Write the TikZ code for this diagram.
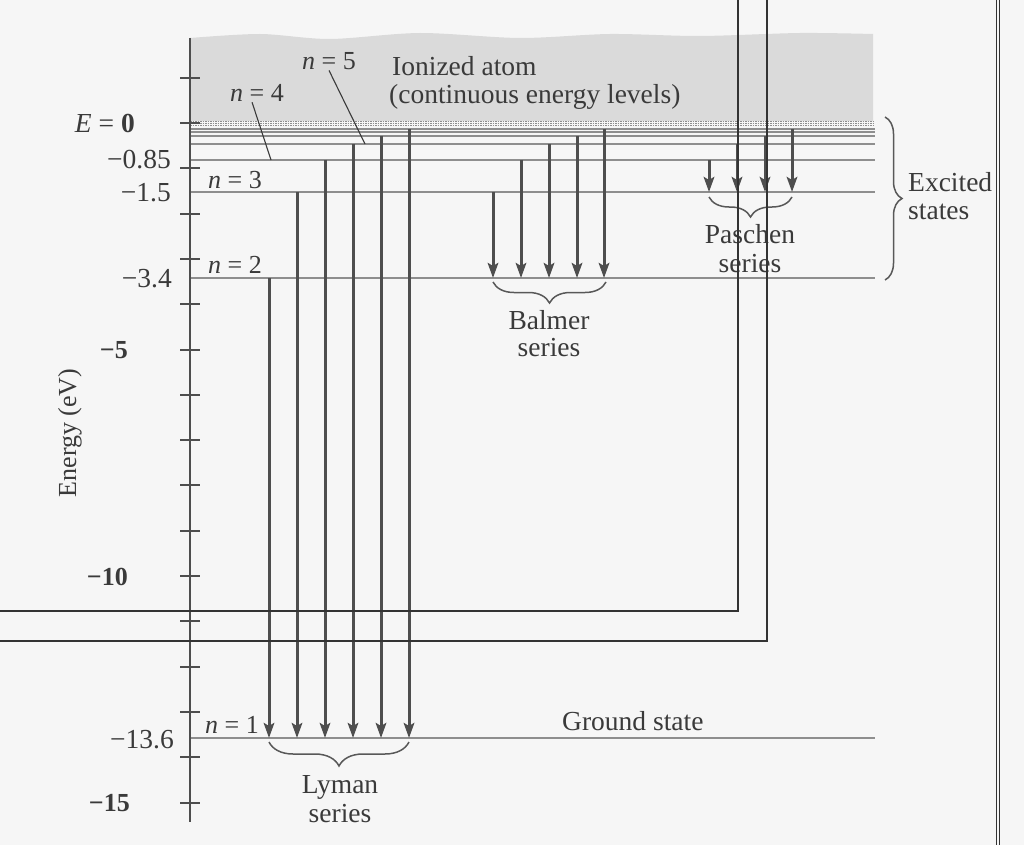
\documentclass[tikz,border=0pt]{standalone}
\usepackage{fontspec}
\setmainfont{Liberation Serif}
\usetikzlibrary{arrows.meta, decorations.pathreplacing, positioning}
\definecolor{ink}{HTML}{3A3A3A}
\definecolor{lvl}{HTML}{8E8E8E}
\definecolor{contgray}{HTML}{DADADA}
\definecolor{paper}{HTML}{F6F6F6}

\begin{document}
\begin{tikzpicture}[x=1pt,y=-1pt,>={Stealth[length=15pt,width=10.5pt,inset=3pt]},
    every node/.style={font=\fontsize{27.5}{29}\selectfont, text=ink, inner sep=0pt},
    small/.style={font=\fontsize{26}{29}\selectfont},
    lvline/.style={draw=lvl, line width=1.5pt},
    band/.style={draw=lvl, line width=1pt, dash pattern=on 1.5pt off 1pt},
    axisline/.style={draw=ink!90, line width=2.5pt},
    axtick/.style={draw=ink!90, line width=2pt},
    drop/.style={->, draw=ink!90, line width=3pt},
    leader/.style={draw=ink, line width=1.1pt},
    sbrace/.style={draw=ink!85, line width=1.5pt, decorate, decoration={brace, mirror, amplitude=#1}},
    rbrace/.style={draw=ink!85, line width=1.5pt, decorate, decoration={brace, amplitude=#1}},
    cutline/.style={draw=black!80, line width=1.2pt}]
    \useasboundingbox[fill=paper] (0,0) rectangle (1024,845);

    % continuum above E = 0
    \fill[contgray] (190,121) -- plot[smooth] coordinates {(190,38) (260,34) (330,39) (420,33)
        (520,38) (610,34) (700,36) (800,33) (873,34)} -- (873,121) -- cycle;

    % energy levels
    \foreach \y in {121.5,123.5,125.5}
        \draw[band] (190,\y) -- (875,\y);
    \foreach \y in {129,132,136,144,160,192,738}
        \draw[lvline] (190,\y) -- (875,\y);
    \draw[lvline, line width=2pt] (190,278) -- (875,278);

    % energy axis
    \draw[axisline] (190,38) -- (190,822);
    \foreach \e in {1,0,...,-15}
        \draw[axtick] (180,{123-45.3*\e}) -- (200,{123-45.3*\e});

    \node[anchor=base east] (ezero) at (135,133) {\textit{E} = \textbf{0}};
    \node[anchor=base east] (vfour) at (171,168) {−0.85};
    \node[anchor=base east] (vthree) at (171,201) {−1.5};
    \node[anchor=base east] (vtwo) at (172,287) {−3.4};
    \node[anchor=base east] (vone) at (174,748) {−13.6};
    \node[anchor=base east, small] (mfive) at (128,358) {\textbf{−5}};
    \node[anchor=base east, small] (mten) at (128,585) {\textbf{−10}};
    \node[anchor=base east, small] (mfifteen) at (130,811) {\textbf{−15}};
    \node[rotate=90, small] (elabel) at (70,433) {Energy (eV)};

    % level names
    \node[anchor=base west, small] (nfive) at (302,70) {\textit{n} = 5};
    \node[anchor=base west, small] (nfour) at (230,102) {\textit{n} = 4};
    \node[anchor=base west, small] (nthree) at (208,189) {\textit{n} = 3};
    \node[anchor=base west, small] (ntwo) at (208,273) {\textit{n} = 2};
    \node[anchor=base west, small] (none) at (205,733) {\textit{n} = 1};
    \coordinate (fiveend) at (365,144);
    \coordinate (fourend) at (271,160);
    \draw[leader] (nfive.south) -- (fiveend);
    \draw[leader] ([xshift=-5pt]nfour.south) -- (fourend);

    \node[anchor=base west] (ionized) at (392,76) {Ionized atom};
    \node[anchor=base west] (contin) at ([shift={(-3,28)}]ionized.base west) {(continuous energy levels)};

    % transitions
    \foreach \x/\t in {269/278,297/192,325/160,353/144,381/136,409/129}
        \draw[drop] (\x,\t) -- (\x,738);
    \foreach \x/\t in {493/192,521/160,549/144,577/136,604/129}
        \draw[drop] (\x,\t) -- (\x,278);
    \foreach \x/\t in {709/160,737/144,765/136,792/129}
        \draw[drop] (\x,\t) -- (\x,192);

    % series
    \draw[sbrace=24] (269,742) -- (409,742);
    \node[anchor=base] (lyman) at (340,793) {Lyman};
    \node[anchor=base] (lymans) at ([shift={(0,29)}]lyman.base) {series};
    \draw[sbrace=21] (493,282) -- (606,282);
    \node[anchor=base] (balmer) at (549,329) {Balmer};
    \node[anchor=base] (balmers) at ([shift={(0,27)}]balmer.base) {series};
    \draw[sbrace=20] (709,197) -- (792,197);
    \node[anchor=base] (paschen) at (750,243) {Paschen};
    \node[anchor=base] (paschens) at ([shift={(0,29)}]paschen.base) {series};

    \draw[rbrace=17] (885,117) -- (885,280);
    \node[anchor=base west] (excited) at (908,191) {Excited};
    \node[anchor=base west] (states) at ([shift={(0,28)}]excited.base west) {states};
    \node[anchor=base west] (ground) at (562,730) {Ground state};

    % page edges
    \draw[cutline] (738,0) -- (738,611) -- (0,611);
    \draw[cutline] (767,0) -- (767,641) -- (0,641);
    \draw[cutline, line width=0.8pt] (996.5,0) -- (996.5,845);
    \draw[cutline, line width=0.8pt] (999,0) -- (999,845);
\end{tikzpicture}
\end{document}
